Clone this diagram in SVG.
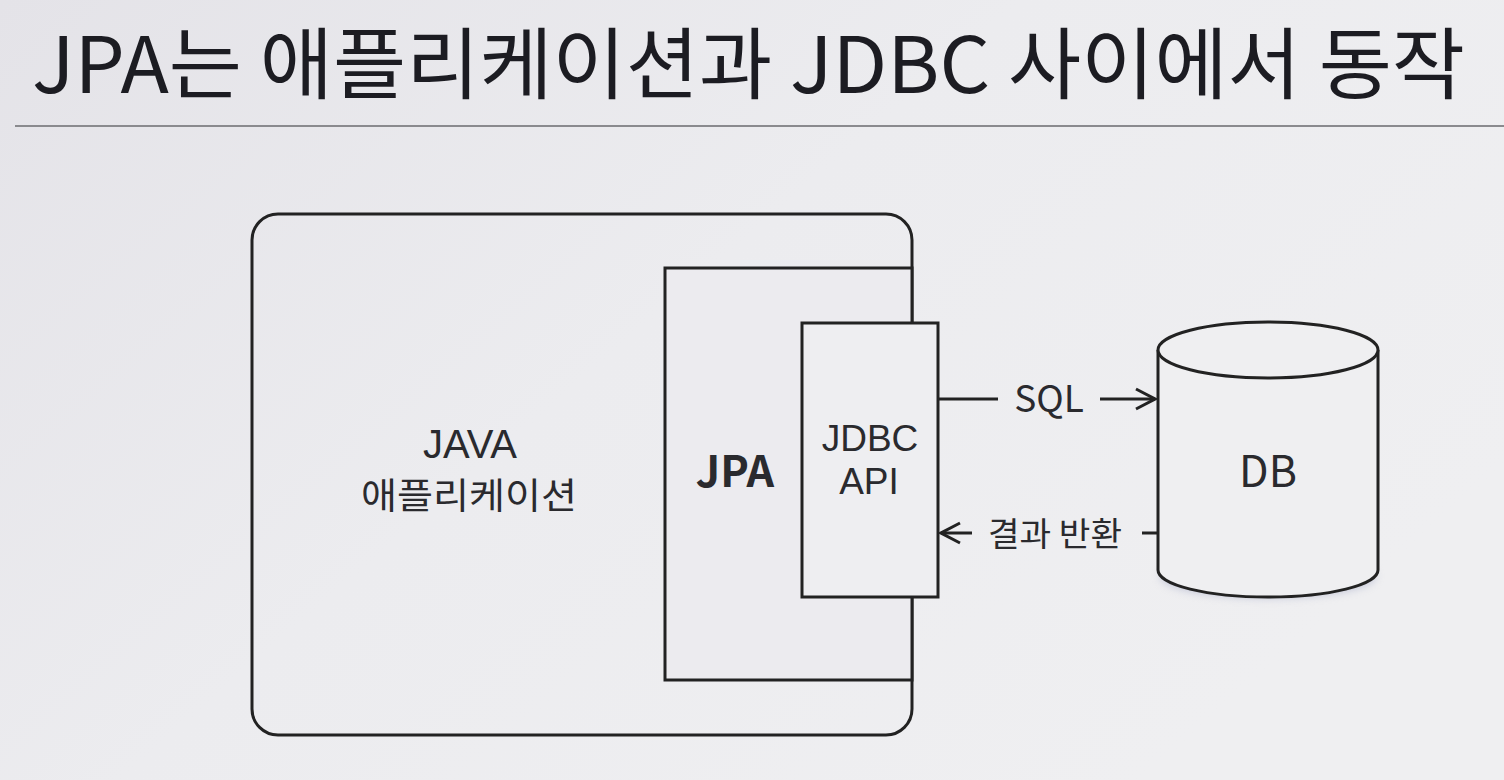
<svg xmlns="http://www.w3.org/2000/svg" width="1504" height="780" viewBox="0 0 1504 780">
  <defs>
    <linearGradient id="bg" x1="0" y1="0" x2="1" y2="0.6">
      <stop offset="0" stop-color="#e4e3e8"/>
      <stop offset="0.5" stop-color="#ececef"/>
      <stop offset="1" stop-color="#efeff1"/>
    </linearGradient>
    <filter id="blur" x="-20%" y="-50%" width="140%" height="200%">
      <feGaussianBlur stdDeviation="4"/>
    </filter>
    <marker id="arr" viewBox="0 0 24 24" refX="22" refY="12" markerWidth="24" markerHeight="24" orient="auto" markerUnits="userSpaceOnUse">
      <path d="M3,2 L22,12 L3,22" fill="none" stroke="#222" stroke-width="3"/>
    </marker>
    <style>
      .box { fill: none; stroke: #222; stroke-width: 3; }
      .ln { fill: none; stroke: #222; stroke-width: 3; }
      .t { font-family: "Noto Sans CJK KR", "Noto Sans", sans-serif; fill: #2a2a2e; text-anchor: middle; }
      .l { font-family: "Liberation Sans", Arial, sans-serif; fill: #2a2a2e; text-anchor: middle; }
    </style>
  </defs>

  <rect x="0" y="0" width="1504" height="780" fill="url(#bg)"/>

  <g id="title">
    <text x="32" y="93" font-family="'Noto Sans CJK KR', 'Noto Sans', sans-serif" font-size="78" fill="#1c1c22" textLength="1433" lengthAdjust="spacingAndGlyphs">JPA는 애플리케이션과 JDBC 사이에서 동작</text>
    <line x1="15" y1="126" x2="1504" y2="126" stroke="#8a8a8e" stroke-width="2"/>
  </g>

  <g id="java-app">
    <rect class="box" x="252" y="214" width="660" height="521" rx="26" ry="26"/>
    <text class="l" x="470" y="458" font-size="40">JAVA</text>
    <text class="t" x="469" y="509" font-size="36" textLength="216" lengthAdjust="spacingAndGlyphs">애플리케이션</text>
  </g>

  <g id="jpa">
    <rect class="box" x="665" y="268" width="247" height="412" style="fill:#ecebef"/>
    <text class="t" x="735" y="487" font-size="43" font-weight="bold">JPA</text>
  </g>

  <g id="jdbc-api">
    <rect class="box" x="802" y="323" width="136" height="274" style="fill:#eeeef1"/>
    <text class="l" x="870" y="451" font-size="37">JDBC</text>
    <text class="l" x="869" y="494" font-size="37">API</text>
  </g>

  <g id="db">
    <ellipse cx="1268" cy="576" rx="108" ry="22" fill="#9aa0c0" opacity="0.5" filter="url(#blur)"/>
    <path d="M1158,350 L1158,570 A110,27 0 0 0 1378,570 L1378,350" fill="#efeff1" stroke="#222" stroke-width="3"/>
    <ellipse cx="1268" cy="350" rx="110" ry="28" fill="#efeff1" stroke="#222" stroke-width="3"/>
    <text class="t" x="1268" y="487" font-size="43">DB</text>
  </g>

  <g id="connectors">
    <line class="ln" x1="938" y1="399" x2="998" y2="399"/>
    <line class="ln" x1="1100" y1="399" x2="1155" y2="399" marker-end="url(#arr)"/>
    <line class="ln" x1="1142" y1="533" x2="1158" y2="533"/>
    <line class="ln" x1="972" y1="533" x2="941" y2="533" marker-end="url(#arr)"/>
    <text class="t" x="1049" y="412" font-size="37">SQL</text>
    <text class="t" x="1055" y="546" font-size="33" textLength="134" lengthAdjust="spacingAndGlyphs">결과 반환</text>
  </g>
</svg>
